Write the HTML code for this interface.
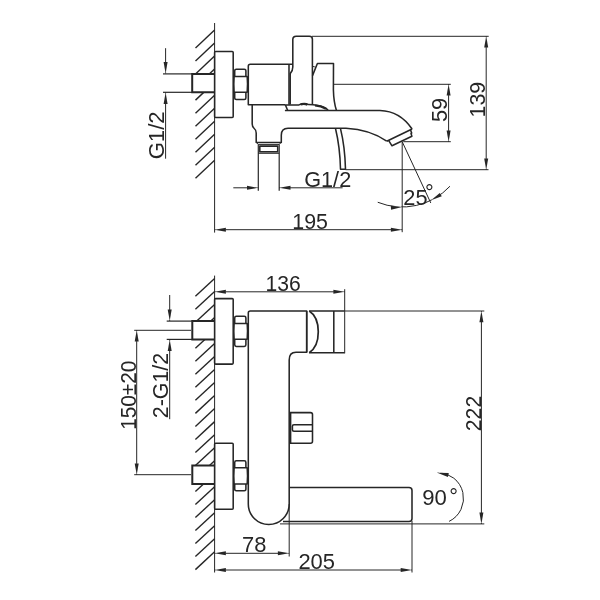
<!DOCTYPE html>
<html><head><meta charset="utf-8"><title>Faucet dimensions</title>
<style>
html,body{margin:0;padding:0;background:#fff}
svg{display:block;will-change:transform;filter:grayscale(1)}
text{font-family:"Liberation Sans",sans-serif;fill:#262626}
.l{stroke:#262626;stroke-width:1;fill:none}
.l2{stroke:#262626;stroke-width:1.2;fill:none}
.h{stroke:#262626;stroke-width:1.4;fill:none}
.b{stroke:#262626;stroke-width:1.55;fill:none;stroke-linejoin:round}
.b2{stroke:#262626;stroke-width:2;fill:none}
.b3{stroke:#262626;stroke-width:1.7;fill:none}
.p{stroke:#262626;stroke-width:2;fill:none}
.a{fill:#262626;stroke:none}
</style></head><body>
<svg width="600" height="600" viewBox="0 0 600 600">
<rect width="600" height="600" fill="#fff"/>
<line class="l" x1="214.6" y1="23" x2="214.6" y2="232.6"/>
<line class="h" x1="195.5" y1="48.00" x2="214.6" y2="30.00"/>
<line class="h" x1="195.5" y1="61.03" x2="214.6" y2="43.03"/>
<line class="h" x1="195.5" y1="74.06" x2="214.6" y2="56.06"/>
<line class="h" x1="195.5" y1="87.09" x2="214.6" y2="69.09"/>
<line class="h" x1="195.5" y1="100.12" x2="214.6" y2="82.12"/>
<line class="h" x1="195.5" y1="113.15" x2="214.6" y2="95.15"/>
<line class="h" x1="195.5" y1="126.18" x2="214.6" y2="108.18"/>
<line class="h" x1="195.5" y1="139.21" x2="214.6" y2="121.21"/>
<line class="h" x1="195.5" y1="152.24" x2="214.6" y2="134.24"/>
<line class="h" x1="195.5" y1="165.27" x2="214.6" y2="147.27"/>
<line class="h" x1="195.5" y1="178.30" x2="214.6" y2="160.30"/>
<rect x="192.2" y="73.9" width="21.800000000000004" height="18.4" fill="#fff"/>
<path class="p" d="M214.6,73.9 H192.2 V92.3 H214.6"/>
<rect x="214.6" y="51.5" width="18.599999999999994" height="66" rx="1" fill="#fff" class="b"/>
<line class="l2" x1="163" y1="73.9" x2="192" y2="73.9"/>
<line class="l2" x1="163" y1="92.3" x2="192" y2="92.3"/>
<line class="l" x1="165.6" y1="48.2" x2="165.6" y2="73.4"/>
<line x1="165.60" y1="72.50" x2="165.60" y2="62.60" stroke="#fff" stroke-width="2.2"/>
<polygon class="a" points="165.60,73.40 163.60,62.10 167.60,62.10"/>
<line class="l" x1="165.6" y1="92.6" x2="165.6" y2="158.7"/>
<line x1="165.60" y1="93.50" x2="165.60" y2="103.40" stroke="#fff" stroke-width="2.2"/>
<polygon class="a" points="165.60,92.60 167.60,103.90 163.60,103.90"/>
<text x="164.20" y="159.31" font-size="21.9" textLength="47.92" lengthAdjust="spacingAndGlyphs" transform="rotate(-90 164.20 159.31)">G1/2</text>
<path class="b" d="M234.7,76.5 V70.8 Q234.7,69.2 236.3,69.2 H244.3 Q245.9,69.2 245.9,70.8 V76.5"/>
<path class="b" d="M234.7,92.2 V97.9 Q234.7,99.5 236.3,99.5 H244.3 Q245.9,99.5 245.9,97.9 V92.2"/>
<path class="b" d="M234.1,76.5 H247.2 Q247.9,84.35 247.2,92.2 H234.1 Q233.5,84.35 234.1,76.5 Z"/>
<path class="b" d="M292.8,64.3 H250.3 Q248.3,64.3 248.3,66.3 V104.8 H285.3"/>
<line class="b" x1="289" y1="64.3" x2="289" y2="104.7"/>
<path class="b" d="M290.2,104.5 V73.6 Q292.8,71 292.8,67 V39.6 Q292.8,36.2 296.2,36.2 H309.4 Q312.4,36.2 312.4,39.2 V104.5"/>
<path class="b" d="M312.5,75.6 L317.4,63.5 H333.5 L333.4,90 Q333.7,102 336.4,110.3"/>
<path class="l" d="M312.6,66.4 Q314.5,66.6 315.8,67.4"/>
<path class="b" d="M285.3,104.8 L287.6,110.3"/>
<path class="b" d="M285.3,104.9 H299 Q304,102.4 308.6,104.6 Q318,105 323.5,107 Q326.6,108.2 328,110.3"/>
<path class="b2" d="M300.5,104.7 Q304,103.2 307.5,104.9"/>
<path class="b2" d="M315,105.5 Q321,106 326,108.8"/>
<path class="b" d="M284.9,110.4 H380 Q400,111 412.1,129"/>
<path class="b" d="M252.2,104.7 V124 Q252.2,127 254.2,128.5 Q256.2,130 256.2,133 V142.4 H281.3 V135.2 Q281.3,128.3 288,128.3 H346 Q370,129.5 386.7,141.2"/>
<path class="b" d="M386.7,141.2 L412.1,129"/>
<path class="b" d="M388.6,140.4 L392,145.8 L411.9,136.3 L411,133.5 L411.7,133.1 L410.5,129.9"/>
<path class="b" d="M335.5,128.5 Q340,147 340.5,169.3 H345.5 Q345,147 340.5,128.6"/>
<path class="l" d="M256.5,142.4 L258.3,144.6 H279.2 L281,142.4"/>
<line class="l2" x1="258.3" y1="144.6" x2="258.3" y2="190.7"/>
<line class="l2" x1="279.2" y1="144.6" x2="279.2" y2="190.7"/>
<line class="l2" x1="258.3" y1="153.2" x2="279.2" y2="153.2"/>
<rect x="259.8" y="146.1" width="17.9" height="5.6" class="b" fill="none"/>
<line class="l" x1="233.3" y1="187.8" x2="258.3" y2="187.8"/>
<line x1="257.40" y1="187.80" x2="247.50" y2="187.80" stroke="#fff" stroke-width="2.2"/>
<polygon class="a" points="258.30,187.80 247.00,189.80 247.00,185.80"/>
<line class="l" x1="279.2" y1="187.8" x2="342.6" y2="187.8"/>
<line x1="280.10" y1="187.80" x2="290.00" y2="187.80" stroke="#fff" stroke-width="2.2"/>
<polygon class="a" points="279.20,187.80 290.50,185.80 290.50,189.80"/>
<text x="304.22" y="186.50" font-size="21.9" textLength="46.98" lengthAdjust="spacingAndGlyphs">G1/2</text>
<line class="l" x1="214.6" y1="229.7" x2="402.2" y2="229.7"/>
<line x1="215.50" y1="229.70" x2="225.40" y2="229.70" stroke="#fff" stroke-width="2.2"/>
<polygon class="a" points="214.60,229.70 225.90,227.70 225.90,231.70"/>
<line x1="401.30" y1="229.70" x2="391.40" y2="229.70" stroke="#fff" stroke-width="2.2"/>
<polygon class="a" points="402.20,229.70 390.90,231.70 390.90,227.70"/>
<text x="292.30" y="228.50" font-size="21.9" textLength="35.68" lengthAdjust="spacingAndGlyphs">195</text>
<line class="l" x1="402.2" y1="141.7" x2="402.2" y2="232.2"/>
<line class="l" x1="312" y1="36.3" x2="488.7" y2="36.3"/>
<line class="l" x1="334" y1="84.3" x2="450.8" y2="84.3"/>
<line class="l" x1="403.3" y1="141.7" x2="450.8" y2="141.7"/>
<line class="l" x1="345.5" y1="169.7" x2="488.5" y2="169.7"/>
<line class="l" x1="448.6" y1="84.3" x2="448.6" y2="141.7"/>
<line x1="448.60" y1="85.20" x2="448.60" y2="95.10" stroke="#fff" stroke-width="2.2"/>
<polygon class="a" points="448.60,84.30 450.60,95.60 446.60,95.60"/>
<line x1="448.60" y1="140.80" x2="448.60" y2="130.90" stroke="#fff" stroke-width="2.2"/>
<polygon class="a" points="448.60,141.70 446.60,130.40 450.60,130.40"/>
<text x="447.00" y="122.07" font-size="21.9" textLength="24.31" lengthAdjust="spacingAndGlyphs" transform="rotate(-90 447.00 122.07)">59</text>
<line class="l" x1="486.2" y1="36.3" x2="486.2" y2="169.7"/>
<line x1="486.20" y1="37.20" x2="486.20" y2="47.10" stroke="#fff" stroke-width="2.2"/>
<polygon class="a" points="486.20,36.30 488.20,47.60 484.20,47.60"/>
<line x1="486.20" y1="168.80" x2="486.20" y2="158.90" stroke="#fff" stroke-width="2.2"/>
<polygon class="a" points="486.20,169.70 484.20,158.40 488.20,158.40"/>
<text x="484.90" y="117.50" font-size="21.9" textLength="35.69" lengthAdjust="spacingAndGlyphs" transform="rotate(-90 484.90 117.50)">139</text>
<line class="l" x1="402.2" y1="141.7" x2="430.8" y2="203"/>
<path class="l" d="M377.74,202.25 A65.3,65.3 0 0 0 449.96,186.23"/>
<line x1="401.30" y1="207.06" x2="391.43" y2="207.75" stroke="#fff" stroke-width="2.2"/>
<polygon class="a" points="402.20,207.00 391.07,209.78 390.79,205.79"/>
<line x1="431.81" y1="199.84" x2="440.36" y2="194.86" stroke="#fff" stroke-width="2.2"/>
<polygon class="a" points="431.03,200.29 439.79,192.88 441.80,196.34"/>
<text x="403.31" y="205.30" font-size="21.9" textLength="24.21" lengthAdjust="spacingAndGlyphs">25</text>
<text x="424.9" y="199.8" font-size="21.9">°</text>
<line class="l" x1="214.6" y1="275.6" x2="214.6" y2="572.5"/>
<line class="h" x1="195.4" y1="296.20" x2="214.6" y2="278.40"/>
<line class="h" x1="195.4" y1="309.22" x2="214.6" y2="291.42"/>
<line class="h" x1="195.4" y1="322.24" x2="214.6" y2="304.44"/>
<line class="h" x1="195.4" y1="335.26" x2="214.6" y2="317.46"/>
<line class="h" x1="195.4" y1="348.28" x2="214.6" y2="330.48"/>
<line class="h" x1="195.4" y1="361.30" x2="214.6" y2="343.50"/>
<line class="h" x1="195.4" y1="374.32" x2="214.6" y2="356.52"/>
<line class="h" x1="195.4" y1="387.34" x2="214.6" y2="369.54"/>
<line class="h" x1="195.4" y1="400.36" x2="214.6" y2="382.56"/>
<line class="h" x1="195.4" y1="413.38" x2="214.6" y2="395.58"/>
<line class="h" x1="195.4" y1="426.40" x2="214.6" y2="408.60"/>
<line class="h" x1="195.4" y1="439.42" x2="214.6" y2="421.62"/>
<line class="h" x1="195.4" y1="452.44" x2="214.6" y2="434.64"/>
<line class="h" x1="195.4" y1="465.46" x2="214.6" y2="447.66"/>
<line class="h" x1="195.4" y1="478.48" x2="214.6" y2="460.68"/>
<line class="h" x1="195.4" y1="491.50" x2="214.6" y2="473.70"/>
<line class="h" x1="195.4" y1="504.52" x2="214.6" y2="486.72"/>
<line class="h" x1="195.4" y1="517.54" x2="214.6" y2="499.74"/>
<line class="h" x1="195.4" y1="530.56" x2="214.6" y2="512.76"/>
<line class="h" x1="195.4" y1="543.58" x2="214.6" y2="525.78"/>
<line class="h" x1="195.4" y1="556.60" x2="214.6" y2="538.80"/>
<line class="h" x1="195.4" y1="569.62" x2="214.6" y2="551.82"/>
<rect x="192.3" y="321.1" width="21.69999999999998" height="18.3" fill="#fff"/>
<path class="p" d="M214.6,321.1 H192.3 V339.40000000000003 H214.6"/>
<rect x="192.3" y="465.6" width="21.69999999999998" height="18.3" fill="#fff"/>
<path class="p" d="M214.6,465.6 H192.3 V483.90000000000003 H214.6"/>
<rect x="214.6" y="298.6" width="18.599999999999994" height="65.5" rx="1" fill="#fff" class="b"/>
<rect x="214.6" y="443.2" width="18.599999999999994" height="66" rx="1" fill="#fff" class="b"/>
<path class="b" d="M234.7,323.40000000000003 V317.90000000000003 Q234.7,316.3 236.3,316.3 H244.3 Q245.9,316.3 245.9,317.90000000000003 V323.40000000000003"/>
<path class="b" d="M234.7,339.29999999999995 V344.79999999999995 Q234.7,346.4 236.3,346.4 H244.3 Q245.9,346.4 245.9,344.79999999999995 V339.29999999999995"/>
<path class="b" d="M234.1,323.40000000000003 H247.2 Q247.9,331.35 247.2,339.29999999999995 H234.1 Q233.5,331.35 234.1,323.40000000000003 Z"/>
<path class="b" d="M234.7,467.7 V462.40000000000003 Q234.7,460.8 236.3,460.8 H244.3 Q245.9,460.8 245.9,462.40000000000003 V467.7"/>
<path class="b" d="M234.7,483.90000000000003 V489.2 Q234.7,490.8 236.3,490.8 H244.3 Q245.9,490.8 245.9,489.2 V483.90000000000003"/>
<path class="b" d="M234.1,467.7 H247.2 Q247.9,475.8 247.2,483.90000000000003 H234.1 Q233.5,475.8 234.1,467.7 Z"/>
<line class="l2" x1="166.7" y1="321.1" x2="192.3" y2="321.1"/>
<line class="l2" x1="166.7" y1="339.4" x2="192.3" y2="339.4"/>
<line class="l" x1="169.7" y1="295" x2="169.7" y2="320.8"/>
<line x1="169.70" y1="319.90" x2="169.70" y2="310.00" stroke="#fff" stroke-width="2.2"/>
<polygon class="a" points="169.70,320.80 167.70,309.50 171.70,309.50"/>
<line class="l" x1="169.7" y1="339.7" x2="169.7" y2="419.2"/>
<line x1="169.70" y1="340.60" x2="169.70" y2="350.50" stroke="#fff" stroke-width="2.2"/>
<polygon class="a" points="169.70,339.70 171.70,351.00 167.70,351.00"/>
<text x="167.90" y="418.17" font-size="21.9" textLength="65.39" lengthAdjust="spacingAndGlyphs" transform="rotate(-90 167.90 418.17)">2-G1/2</text>
<line class="l" x1="134.2" y1="330.3" x2="191" y2="330.3"/>
<line class="l" x1="134.2" y1="474.7" x2="191" y2="474.7"/>
<line class="l" x1="136.7" y1="330.3" x2="136.7" y2="474.7"/>
<line x1="136.70" y1="331.20" x2="136.70" y2="341.10" stroke="#fff" stroke-width="2.2"/>
<polygon class="a" points="136.70,330.30 138.70,341.60 134.70,341.60"/>
<line x1="136.70" y1="473.80" x2="136.70" y2="463.90" stroke="#fff" stroke-width="2.2"/>
<polygon class="a" points="136.70,474.70 134.70,463.40 138.70,463.40"/>
<text x="135.70" y="429.86" font-size="21.9" textLength="69.29" lengthAdjust="spacingAndGlyphs" transform="rotate(-90 135.70 429.86)">150±20</text>
<path class="b" d="M306.7,311 H250.3 Q248.3,311 248.3,313 V504 A20.45,20.45 0 0 0 289.2,504 V360 Q289.2,352.3 296,352.3 H306.7 Z"/>
<path class="b" d="M309.2,311 H344.7 M309.2,352.7 H344.7"/>
<line class="b" x1="306.7" y1="311" x2="306.7" y2="352.3"/>
<path class="b3" d="M309.2,311 C321.3,318.5 321.3,345.2 309.2,352.7"/>
<line class="b" x1="333.8" y1="311" x2="333.8" y2="352.7"/>
<line class="l" x1="344.7" y1="289.2" x2="344.7" y2="353.3"/>
<line class="l" x1="344.7" y1="311" x2="484.3" y2="311"/>
<line class="l" x1="214.6" y1="291.8" x2="344.7" y2="291.8"/>
<line x1="215.50" y1="291.80" x2="225.40" y2="291.80" stroke="#fff" stroke-width="2.2"/>
<polygon class="a" points="214.60,291.80 225.90,289.80 225.90,293.80"/>
<line x1="343.80" y1="291.80" x2="333.90" y2="291.80" stroke="#fff" stroke-width="2.2"/>
<polygon class="a" points="344.70,291.80 333.40,293.80 333.40,289.80"/>
<text x="265.62" y="291.10" font-size="21.9" textLength="35.20" lengthAdjust="spacingAndGlyphs">136</text>
<path class="b" d="M289.6,412.6 H310.5 Q312.5,412.6 312.5,414.6 V441.3 Q312.5,443.3 310.5,443.3 H289.6"/>
<line class="b" x1="290.6" y1="412.6" x2="290.6" y2="443.3"/>
<path class="b" d="M312.5,424.7 H294 Q292.4,424.7 292.4,426.3 V429.7 Q292.4,431.3 294,431.3 H312.5"/>
<path class="b" d="M289.2,487.5 H409 Q412,487.5 412,490.5 V518.4 Q412,521.4 409,521.4 H283"/>
<line class="l" x1="280" y1="523.9" x2="484.3" y2="523.9"/>
<line class="l" x1="289.2" y1="504" x2="289.2" y2="556.5"/>
<line class="l" x1="412" y1="521" x2="412" y2="572.5"/>
<line class="l" x1="214.6" y1="553.3" x2="289.2" y2="553.3"/>
<line x1="215.50" y1="553.30" x2="225.40" y2="553.30" stroke="#fff" stroke-width="2.2"/>
<polygon class="a" points="214.60,553.30 225.90,551.30 225.90,555.30"/>
<line x1="288.30" y1="553.30" x2="278.40" y2="553.30" stroke="#fff" stroke-width="2.2"/>
<polygon class="a" points="289.20,553.30 277.90,555.30 277.90,551.30"/>
<text x="242.05" y="551.60" font-size="21.9" textLength="24.33" lengthAdjust="spacingAndGlyphs">78</text>
<line class="l" x1="214.6" y1="570" x2="412" y2="570"/>
<line x1="215.50" y1="570.00" x2="225.40" y2="570.00" stroke="#fff" stroke-width="2.2"/>
<polygon class="a" points="214.60,570.00 225.90,568.00 225.90,572.00"/>
<line x1="411.10" y1="570.00" x2="401.20" y2="570.00" stroke="#fff" stroke-width="2.2"/>
<polygon class="a" points="412.00,570.00 400.70,572.00 400.70,568.00"/>
<text x="298.40" y="569.10" font-size="21.9" textLength="36.60" lengthAdjust="spacingAndGlyphs">205</text>
<line class="l" x1="481.4" y1="311" x2="481.4" y2="523.9"/>
<line x1="481.40" y1="311.90" x2="481.40" y2="321.80" stroke="#fff" stroke-width="2.2"/>
<polygon class="a" points="481.40,311.00 483.40,322.30 479.40,322.30"/>
<line x1="481.40" y1="523.00" x2="481.40" y2="513.10" stroke="#fff" stroke-width="2.2"/>
<polygon class="a" points="481.40,523.90 479.40,512.60 483.40,512.60"/>
<text x="480.70" y="431.16" font-size="21.9" textLength="35.34" lengthAdjust="spacingAndGlyphs" transform="rotate(-90 480.70 431.16)">222</text>
<path class="l" d="M437.80,472.60 A25.7,25.7 0 0 1 449.07,521.40"/>
<line x1="438.18" y1="472.89" x2="447.86" y2="474.95" stroke="#fff" stroke-width="2.2"/>
<polygon class="a" points="437.30,472.70 448.77,473.09 447.94,477.01"/>
<text x="422.15" y="504.60" font-size="21.9" textLength="24.63" lengthAdjust="spacingAndGlyphs">90</text>
<text x="449.3" y="504" font-size="21.9">°</text>
</svg>
</body></html>
